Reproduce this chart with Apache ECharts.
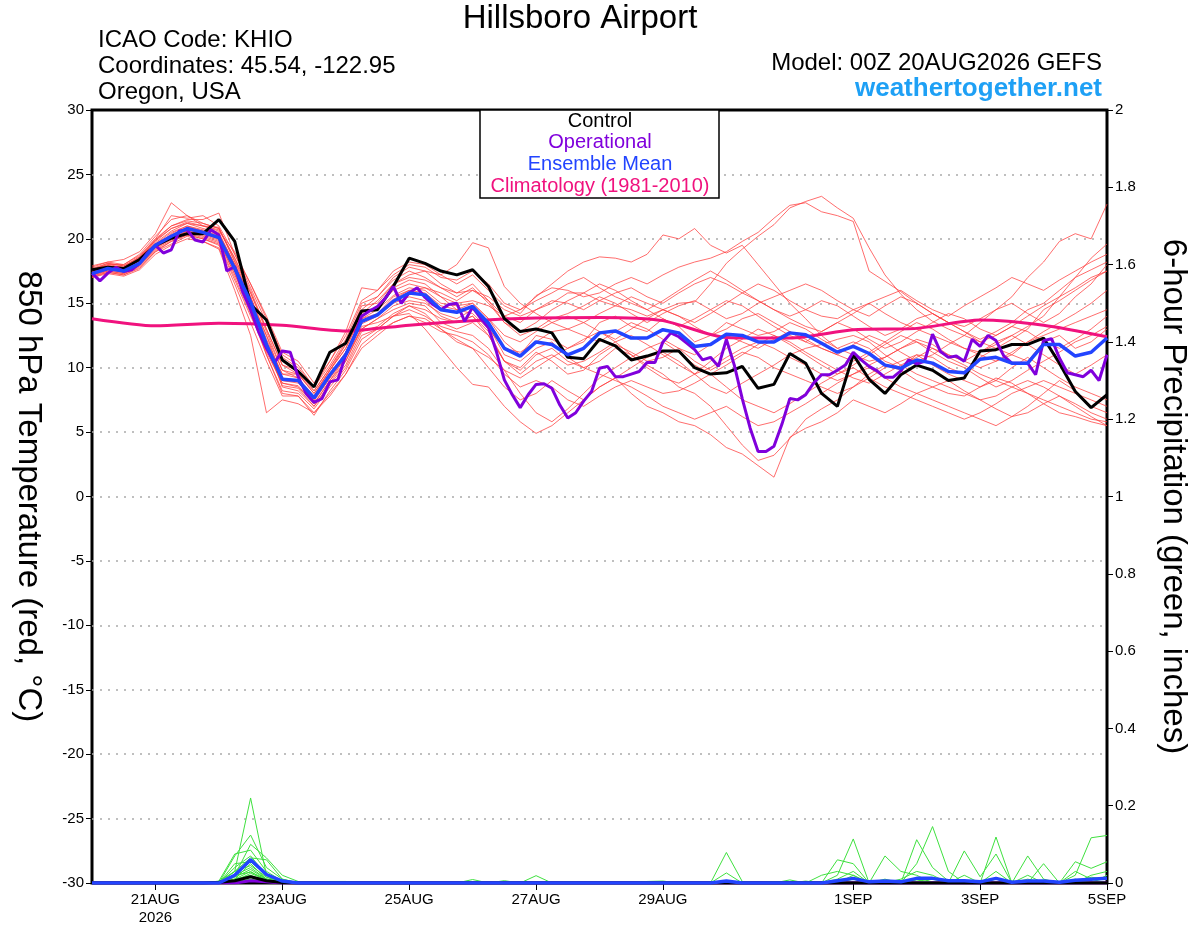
<!DOCTYPE html>
<html><head><meta charset="utf-8">
<script src="https://cdn.jsdelivr.net/npm/echarts@6/dist/echarts.min.js"></script>
<style>html,body{margin:0;padding:0;background:#fff}#c{width:1200px;height:927px}</style>
</head><body><div id="c"></div>
<script>
const FONT = 'Liberation Sans, Arial, Helvetica, sans-serif';

// x axis: hours since 00Z 20AUG2026
const tickHours = [24, 72, 120, 168, 216, 288, 336, 384];
const tickLabels = ['21AUG\n2026', '23AUG', '25AUG', '27AUG', '29AUG', '1SEP', '3SEP', '5SEP'];

// 850 hPa temperature (°C), 6-hourly from 00Z 20AUG
const controlTemp = [17.6,17.8,17.7,18.4,19.5,20.05,20.4,20.4,21.5,19.8,14.9,13.7,10.6,9.7,8.5,11.2,11.9,14.4,14.5,16.3,18.5,18.1,17.5,17.2,17.6,16.3,13.8,12.8,13.0,12.7,10.8,10.7,12.2,11.7,10.6,10.9,11.3,11.3,10.0,9.5,9.6,10.1,8.4,8.7,11.1,10.35,8.0,7.0,11.0,9.1,8.0,9.45,10.2,9.8,9.0,9.2,11.3,11.4,11.8,11.8,12.3,10.35,8.15,6.9,7.9];
const meanTemp = [17.3,17.7,17.5,18.1,19.5,20.2,20.8,20.5,20.1,17.7,15.1,11.8,9.1,9.0,7.65,9.45,11.0,13.6,14.1,15.15,15.8,15.65,14.5,14.3,14.75,13.45,11.5,10.9,12.0,11.8,11.0,11.5,12.7,12.85,12.3,12.3,12.95,12.7,11.65,11.8,12.6,12.5,12.0,12.0,12.7,12.55,11.9,11.2,11.65,11.1,10.2,9.95,10.6,10.35,9.7,9.6,10.65,10.8,10.35,10.35,11.8,11.8,10.9,11.2,12.3];
// operational run, 3-hourly from 00Z 20AUG
const operationalTemp = [17.34,16.74,17.34,17.78,17.47,17.6,18.1,18.9,19.5,18.9,19.15,20.6,20.7,19.9,19.75,20.7,20.3,17.5,17.85,15.9,14.5,12.8,11.5,10.35,11.3,11.2,9.3,8.0,7.3,7.6,8.9,9.05,11.0,12.3,14.0,14.4,14.75,15.4,16.3,15.0,15.8,16.2,15.45,14.9,14.5,14.9,15.0,13.6,14.7,13.85,13.1,11.25,9.05,7.9,6.9,7.9,8.7,8.75,8.4,7.1,6.1,6.5,7.4,8.15,9.95,10.1,9.3,9.3,9.5,9.7,10.4,10.4,12.0,12.7,12.4,11.9,11.4,10.6,10.8,10.1,12.2,10.2,7.6,5.3,3.5,3.5,3.9,5.6,7.6,7.5,7.9,8.8,9.45,9.45,9.8,10.2,11.2,10.6,10.1,9.75,9.25,9.25,9.75,10.6,10.3,10.5,12.6,11.25,10.8,10.9,10.5,12.2,11.65,12.5,12.1,10.9,10.35,10.35,10.35,9.45,12.1,12.25,10.75,9.6,9.45,9.3,9.8,9.0,11.0];
// climatology 1981-2010, daily at 00Z
const climTemp = [13.8,13.25,13.45,13.3,12.85,13.3,13.65,13.85,13.9,13.65,12.35,12.3,12.95,13.05,13.7,13.3,12.4];

// ensemble members, 6-hourly
const memberTemps = [
[17.6,18.0,18.0,18.8,20.2,21.5,21.8,21.2,20.8,18.5,16.0,13.0,10.2,9.5,8.2,10.0,12.0,14.5,15.5,16.8,17.5,17.0,16.2,15.8,16.0,15.2,14.0,13.5,14.5,15.0,15.8,15.8,15.2,14.8,14.5,14.0,14.5,15.0,15.1,16.5,18.1,19.2,20.2,21.1,22.4,22.9,23.3,22.4,21.6,19.3,17.2,15.7,14.5,13.6,13.0,12.5,12.0,11.5,12.2,13.0,14.5,15.2,16.0,16.8,17.5],
[17.9,18.2,18.4,19.0,20.4,22.8,21.8,21.0,20.6,19.0,16.5,14.0,11.2,10.5,8.8,10.5,12.8,16.2,16.0,17.5,18.2,18.0,17.2,16.5,17.2,16.0,14.8,14.2,15.6,16.2,16.0,15.5,15.8,16.5,17.0,16.5,17.2,17.8,18.2,18.5,19.0,19.8,20.5,21.6,22.6,22.8,22.1,21.8,21.35,17.5,16.7,15.9,15.0,14.2,13.5,12.8,12.2,12.8,13.5,14.5,15.0,16.0,17.0,17.6,18.2],
[17.5,17.9,17.8,18.6,19.8,20.8,21.2,21.0,20.9,18.2,15.5,12.5,9.8,9.2,7.8,9.8,11.5,14.2,15.2,16.5,17.2,17.5,17.2,18.0,19.7,19.3,16.3,15.0,14.2,13.5,13.0,13.5,14.2,14.8,15.5,15.0,14.5,14.0,13.5,14.2,15.0,15.8,16.5,16.0,15.2,14.5,14.0,13.8,14.5,15.0,14.2,13.5,13.0,12.5,12.0,11.5,11.2,11.8,12.5,13.2,14.0,15.5,17.0,18.5,19.6],
[17.2,17.6,17.4,18.2,19.4,20.4,21.0,20.7,20.4,18.0,15.0,12.0,9.5,9.5,8.0,9.8,11.8,14.0,14.8,16.0,16.5,16.2,15.5,15.0,15.2,14.8,14.0,14.5,15.5,16.5,17.5,18.2,18.6,18.5,18.2,18.8,20.3,20.0,20.8,19.5,18.9,19.5,18.0,16.5,15.0,13.8,12.5,11.5,11.0,10.5,10.8,11.5,12.2,11.8,11.0,10.5,10.0,10.5,11.0,12.0,12.5,13.0,13.5,14.0,14.5],
[17.0,17.4,17.2,17.8,19.0,19.8,20.3,20.0,19.6,17.0,14.2,11.0,8.2,8.0,6.8,8.5,10.0,12.5,13.0,14.0,14.8,14.2,13.0,12.2,11.5,10.0,8.5,7.5,8.0,9.0,8.2,7.5,8.5,9.2,8.0,7.0,6.5,5.8,5.5,4.8,3.8,3.3,2.4,1.5,4.6,5.3,5.8,6.5,7.5,7.0,6.5,7.2,8.0,8.5,9.0,8.2,7.5,7.8,8.5,9.0,8.5,7.8,7.2,6.5,6.0],
[17.4,17.8,17.6,18.0,19.3,20.0,20.5,20.2,19.8,17.5,14.8,12.0,8.5,8.2,7.0,8.8,10.5,13.0,13.8,14.5,15.0,14.8,13.5,13.0,13.5,12.5,10.5,9.8,11.0,11.5,10.5,10.0,10.5,11.5,11.0,10.2,9.5,8.5,8.0,7.0,5.5,4.0,2.8,3.2,4.5,6.0,6.8,7.5,8.5,9.2,10.0,10.5,11.0,10.2,9.5,9.0,8.5,9.0,10.0,10.8,10.0,9.2,8.5,8.0,7.5],
[17.1,17.5,17.3,17.9,19.2,19.9,20.4,20.1,19.7,17.3,14.5,11.2,8.8,8.5,7.2,9.0,10.5,13.2,13.5,14.0,14.2,13.0,11.5,10.0,8.7,8.5,7.0,5.8,4.9,5.5,6.5,7.5,8.5,9.2,10.0,10.8,11.2,10.5,9.5,8.5,8.0,8.8,9.5,10.2,11.0,11.5,11.8,12.2,12.5,12.0,11.0,10.2,9.5,9.0,8.5,8.0,7.5,6.8,6.2,6.5,7.2,7.8,7.0,6.2,5.5],
[17.6,18.0,17.8,18.4,19.7,20.6,21.2,20.8,20.5,18.0,15.5,12.2,9.5,9.2,7.6,9.5,11.2,13.8,14.5,15.6,16.2,16.0,15.0,14.8,15.0,13.8,12.0,11.0,12.5,12.2,11.5,12.0,13.5,14.0,13.2,12.8,13.8,13.2,12.0,12.5,13.5,13.0,12.5,12.8,13.5,13.0,12.2,11.5,12.0,11.5,10.5,10.0,11.0,10.8,10.0,9.5,10.8,11.5,11.0,10.5,12.0,12.5,11.5,12.0,13.0],
[17.3,17.7,17.6,18.3,19.6,20.5,21.0,20.6,20.2,17.8,15.2,12.0,9.0,8.8,7.5,9.2,11.0,13.5,14.2,15.5,16.0,16.2,15.8,15.2,16.0,15.5,14.5,14.0,14.5,15.2,15.0,14.5,15.2,15.8,16.2,15.5,15.0,15.8,16.5,17.0,16.5,15.8,15.2,14.5,14.0,14.5,15.2,14.8,14.0,13.2,12.5,13.0,13.8,14.2,13.5,12.8,12.0,12.5,13.2,12.8,12.0,11.5,12.2,13.0,14.0],
[17.0,17.3,17.1,17.6,18.8,19.5,20.0,19.8,19.3,16.5,13.5,10.5,7.8,7.8,6.5,8.0,9.5,11.8,12.8,13.5,14.0,13.5,12.8,12.5,12.0,11.0,9.5,8.5,9.0,8.5,7.5,7.0,7.8,8.5,9.0,8.5,8.0,8.2,8.8,9.5,8.5,7.5,7.0,6.5,7.2,8.0,8.8,9.5,10.0,9.2,8.5,8.0,7.5,7.0,6.5,6.0,6.5,7.2,8.0,8.5,9.0,8.5,8.0,7.5,7.0],
[17.5,17.9,17.7,18.5,19.9,21.0,21.4,21.2,20.8,18.3,15.8,12.8,9.8,9.5,8.0,9.8,11.5,14.0,14.8,16.2,16.8,16.5,15.5,14.5,14.2,13.0,11.5,11.2,12.0,12.8,13.0,12.5,12.0,12.8,13.5,13.0,12.2,11.5,11.0,11.8,12.5,12.0,11.5,12.2,12.8,12.2,11.5,11.0,11.8,12.5,12.0,11.2,10.5,11.0,11.8,12.5,13.5,14.5,15.5,17.0,18.2,19.8,20.4,20.0,22.7],
[17.2,17.5,17.3,17.9,19.1,19.8,20.3,20.0,19.5,16.8,14.0,11.5,8.6,8.4,7.0,8.7,10.2,12.8,13.2,14.2,14.8,14.5,13.8,13.5,14.0,12.8,10.5,10.0,11.2,10.5,9.5,9.8,11.0,11.8,11.2,10.5,10.8,11.5,10.5,9.8,10.5,11.2,10.8,10.0,9.5,9.0,8.5,8.0,8.5,9.5,10.2,9.8,9.0,8.5,8.0,7.8,8.5,9.2,8.8,8.0,7.2,6.5,6.2,5.8,5.5],
[17.8,18.2,18.0,18.7,20.0,21.8,21.6,21.8,21.0,18.8,16.2,13.5,10.8,10.0,8.5,10.2,12.2,15.0,15.5,17.0,17.8,17.5,16.5,15.8,16.5,15.2,13.5,12.5,13.0,13.8,14.2,14.8,15.5,15.0,14.2,13.5,14.2,14.8,15.2,14.5,13.8,14.2,15.0,15.5,16.0,16.5,16.0,15.2,14.5,14.0,14.8,15.5,15.0,14.2,13.5,13.2,13.8,14.5,15.0,14.2,13.5,14.2,15.5,16.5,18.0],
[17.4,17.8,17.5,18.1,19.4,20.1,20.6,20.3,19.9,17.2,14.6,11.0,8.0,7.8,6.3,8.2,9.8,12.2,13.0,14.0,14.5,14.0,13.2,12.8,12.5,11.5,9.8,8.0,6.5,5.8,6.8,8.0,9.2,10.0,10.8,11.5,12.0,11.2,10.2,9.5,10.2,11.0,11.8,12.5,12.0,11.2,10.5,9.8,9.2,8.8,9.5,10.2,10.8,11.5,11.0,10.5,11.2,12.0,12.5,11.8,11.0,10.2,9.5,10.2,11.0],
[17.1,17.4,17.2,17.7,19.0,19.6,20.2,19.8,19.2,16.0,12.5,6.5,7.5,7.2,6.5,7.8,9.5,11.5,12.5,13.5,14.0,13.8,13.0,12.0,11.5,10.8,9.8,9.2,10.0,10.8,11.5,12.2,12.8,12.0,11.0,10.0,9.2,8.8,9.5,10.5,11.5,12.2,13.0,12.5,11.8,11.0,10.2,9.5,10.2,11.0,11.8,12.5,12.0,11.2,10.5,10.0,9.2,8.5,9.0,9.8,10.5,11.2,12.0,12.5,13.2],
[17.6,18.1,17.9,18.6,20.0,21.0,21.5,21.5,22.0,18.8,16.5,13.8,11.0,10.2,8.5,10.5,12.5,15.2,16.0,17.2,18.0,17.8,17.0,16.8,17.5,16.5,15.0,14.5,15.2,15.8,16.5,17.0,16.2,15.5,15.0,14.5,15.2,16.0,16.8,17.5,16.8,16.0,15.2,14.5,13.8,13.2,12.8,13.5,14.2,15.0,15.5,16.0,15.2,14.5,14.0,14.8,15.5,16.2,17.0,16.5,16.0,16.8,17.5,18.2,18.8],
[17.3,17.6,17.4,18.0,19.3,20.0,20.6,20.4,20.0,17.5,14.8,11.5,8.8,8.6,7.2,9.0,10.8,13.0,13.8,14.8,15.2,15.0,14.2,13.8,14.5,13.2,11.0,10.5,11.5,12.0,10.8,10.0,9.5,9.0,8.5,7.8,7.0,6.5,6.0,6.5,7.0,6.2,5.5,5.8,6.5,7.2,8.0,8.8,9.5,10.2,10.8,11.5,12.0,11.5,10.8,10.2,9.5,9.0,8.5,8.0,7.5,7.0,6.5,6.0,5.8],
[17.5,17.9,17.7,18.3,19.6,20.3,20.9,20.6,20.3,18.0,15.3,12.5,9.2,9.0,7.8,9.5,11.2,13.8,14.2,15.3,16.0,15.8,14.8,14.5,15.0,13.8,12.5,12.0,12.8,13.5,14.0,13.5,12.8,12.2,13.0,13.8,14.5,14.0,13.2,12.5,13.0,13.8,14.2,13.5,12.8,12.0,11.5,11.0,10.5,11.2,12.0,12.8,13.5,13.0,12.2,11.5,11.0,10.5,11.2,12.0,12.8,13.5,14.2,15.0,16.0],
[17.2,17.6,17.5,18.2,19.5,20.2,20.7,20.4,20.0,17.6,14.9,11.8,9.0,8.9,7.4,9.2,10.8,13.4,14.0,15.0,15.5,15.2,14.0,13.5,14.0,12.5,10.5,9.5,10.5,11.0,10.2,10.5,11.2,12.0,12.5,11.8,11.0,10.2,9.5,10.0,10.8,11.5,12.0,11.5,10.8,10.2,9.5,9.0,9.5,10.0,9.2,8.5,8.0,7.5,7.0,6.5,6.0,5.5,6.2,7.0,8.0,9.0,8.2,7.0,6.5],
[17.7,18.1,17.9,18.5,19.9,20.8,21.3,21.0,20.7,18.5,15.8,13.0,10.2,9.8,8.2,10.0,11.8,14.8,15.0,16.5,17.0,16.8,16.2,15.5,16.2,15.0,13.5,12.8,13.5,14.5,15.2,15.8,16.5,16.0,15.2,14.5,13.8,13.2,13.8,14.5,15.2,14.8,14.0,13.2,12.5,12.0,12.8,13.5,13.0,12.2,11.5,12.0,12.8,13.5,14.2,13.8,13.0,12.5,13.2,14.0,14.8,15.5,16.2,17.0,17.5]
];

// 6-hour precipitation (inches) as [6-hour step index, value]; all other steps read as 0
const memberPrecip = [
[[8,0.004],[9,0.03],[10,0.22],[11,0.02],[12,0.005],[40,0.079],[41,0.004],[47,0.02],[48,0.114],[52,0.05],[53,0.146],[54,0.03],[56,0.005],[62,0.02],[63,0.117],[64,0.123]],
[[9,0.07],[10,0.124],[11,0.04],[12,0.01],[40,0.026],[47,0.06],[48,0.05],[50,0.01],[52,0.112],[53,0.04],[54,0.005],[57,0.119],[59,0.02],[62,0.055],[63,0.038],[64,0.055]],
[[9,0.02],[10,0.10],[11,0.065],[12,0.02],[13,0.004],[44,0.008],[46,0.02],[47,0.03],[48,0.02],[50,0.07],[51,0.03],[52,0.02],[55,0.083],[56,0.016],[57,0.075],[59,0.07],[60,0.01],[63,0.02],[64,0.03]],
[[8,0.005],[9,0.075],[10,0.085],[11,0.03],[12,0.005],[47,0.01],[48,0.03],[51,0.01],[52,0.03],[53,0.02],[57,0.03],[60,0.05],[62,0.03],[63,0.01]],
[[9,0.04],[10,0.07],[11,0.02],[12,0.005],[48,0.01],[52,0.01],[55,0.02],[58,0.005],[62,0.01],[64,0.02]],
[[9,0.03],[10,0.065],[11,0.06],[12,0.01],[24,0.009],[45,0.005],[48,0.02],[53,0.01],[59,0.01]],
[[9,0.02],[10,0.06],[11,0.015],[12,0.003],[26,0.006],[43,0.004]],
[[9,0.05],[10,0.055],[11,0.02],[12,0.005],[28,0.019],[52,0.008]],
[[9,0.01],[10,0.05],[11,0.01],[12,0.002],[15,0.004],[16,0.004],[35,0.004],[36,0.005]],
[[9,0.03],[10,0.045],[11,0.015],[12,0.003],[57,0.01]],
[[9,0.02],[10,0.04],[11,0.01],[12,0.002],[63,0.015],[64,0.01]],
[[9,0.015],[10,0.035],[11,0.01],[12,0.002],[30,0.003]],
[[9,0.01],[10,0.03],[11,0.005],[49,0.005]],
[[9,0.02],[10,0.028],[11,0.01],[12,0.002]],
[[9,0.005],[10,0.025],[11,0.008]],
[[9,0.01],[10,0.02],[11,0.005],[55,0.005]],
[[9,0.008],[10,0.018],[11,0.003]],
[[9,0.005],[10,0.015],[11,0.002]],
[[9,0.003],[10,0.01],[11,0.002]],
[[9,0.002],[10,0.008],[11,0.001]]
];
const meanPrecip = [[9,0.02],[10,0.06],[11,0.022],[12,0.005],[40,0.005],[47,0.006],[48,0.012],[49,0.003],[50,0.005],[51,0.003],[52,0.012],[53,0.012],[54,0.006],[55,0.006],[56,0.003],[57,0.012],[58,0.002],[59,0.005],[60,0.005],[61,0.002],[62,0.007],[63,0.01],[64,0.012]];
const controlPrecip = [[8,0.002],[9,0.006],[10,0.016],[11,0.006],[12,0.001]];
const operationalPrecip = [[10,0.006],[11,0.003]];

const NSTEP = 65;
function at6(arr){ return arr.map((v,i)=>[i*6, v]); }
function at3(arr){ return arr.map((v,i)=>[i*3, v]); }
function at24(arr){ return arr.map((v,i)=>[i*24, v]); }
function expand(sparse){ const a = new Array(NSTEP).fill(0); sparse.forEach(p=>{ a[p[0]] = p[1]; }); return at6(a); }

const series = [];
memberTemps.forEach((m,k)=>series.push({type:'line', data:at6(m), symbol:'none', silent:true, z:2,
  lineStyle:{color:'rgba(255,60,60,0.75)', width:1}}));
memberPrecip.forEach((m,k)=>series.push({type:'line', yAxisIndex:1, data:expand(m), symbol:'none', silent:true, z:2,
  lineStyle:{color:'#3fe03f', width:1}}));
series.push({type:'line', data:at24(climTemp), symbol:'none', smooth:0.25, silent:true, z:3, lineStyle:{color:'#f0127e', width:3}});
series.push({type:'line', yAxisIndex:1, data:expand(operationalPrecip), symbol:'none', silent:true, z:4, lineStyle:{color:'#8000dc', width:3}});
series.push({type:'line', yAxisIndex:1, data:expand(controlPrecip), symbol:'none', silent:true, z:4, lineStyle:{color:'#000', width:3}});
series.push({type:'line', yAxisIndex:1, data:expand(meanPrecip), symbol:'none', silent:true, z:4, lineStyle:{color:'#2244ff', width:3.5}});
series.push({type:'line', data:at6(controlTemp), symbol:'none', silent:true, z:5, lineStyle:{color:'#000', width:3}});
series.push({type:'line', data:at3(operationalTemp), symbol:'none', silent:true, z:5, lineStyle:{color:'#8000dc', width:3}});
series.push({type:'line', data:at6(meanTemp), symbol:'none', silent:true, z:5, lineStyle:{color:'#2244ff', width:3.5}});

const chart = echarts.init(document.getElementById('c'), null, {renderer:'canvas'});
const txt = (x,y,text,size,color,align,weight)=>({type:'text', x:x, y:y, z:200, silent:true,
  style:{text:text, fill:color, font:(weight||'normal')+' '+size+'px '+FONT, textAlign:align, textVerticalAlign:'middle'}});

chart.setOption({
  animation:false,
  backgroundColor:'#fff',
  textStyle:{fontFamily:FONT},
  grid:{left:92, right:93, top:110, bottom:44, show:true, borderColor:'#000', borderWidth:3, backgroundColor:'rgba(0,0,0,0)'},
  xAxis:{type:'value', min:0, max:384,
    axisLine:{show:false, onZero:false}, splitLine:{show:false},
    axisTick:{show:true, customValues:tickHours, length:7, lineStyle:{color:'#000', width:1}},
    axisLabel:{customValues:tickHours, formatter:v=>{const k=tickHours.indexOf(v); return k<0?'':tickLabels[k];},
      fontSize:15, color:'#000', margin:8, lineHeight:18, fontFamily:FONT}},
  yAxis:[
    {type:'value', min:-30, max:30, interval:5, position:'left',
      axisLine:{show:false}, axisTick:{show:true, length:6, lineStyle:{color:'#000'}},
      axisLabel:{fontSize:15, color:'#000', margin:8, fontFamily:FONT},
      splitLine:{show:true, showMinLine:false, showMaxLine:false, lineStyle:{color:'#aaa', type:[2,6], width:1.5}},
      name:'850 hPa Temperature (red, °C)', nameLocation:'middle', nameGap:47, nameRotate:-90,
      nameTextStyle:{fontSize:33, color:'#000', fontFamily:FONT}},
    {type:'value', min:0, max:2, interval:0.2, position:'right',
      axisLine:{show:false}, axisTick:{show:true, length:6, lineStyle:{color:'#000'}},
      axisLabel:{fontSize:15, color:'#000', margin:8, fontFamily:FONT},
      splitLine:{show:false},
      name:'6-hour Precipitation (green, inches)', nameLocation:'middle', nameGap:50, nameRotate:-90,
      nameTextStyle:{fontSize:33, color:'#000', fontFamily:FONT}}
  ],
  graphic:{elements:[
    txt(580,19,'Hillsboro Airport',33,'#000','center'),
    txt(98,40,'ICAO Code: KHIO',24,'#000','left'),
    txt(98,66,'Coordinates: 45.54, -122.95',24,'#000','left'),
    txt(98,92,'Oregon, USA',24,'#000','left'),
    txt(1102,63,'Model: 00Z 20AUG2026 GEFS',24,'#000','right'),
    txt(1102,89,'weathertogether.net',26,'#1ea0f5','right','bold'),
    {type:'rect', z:150, silent:true, shape:{x:480, y:110, width:239, height:88},
      style:{fill:'#fff', stroke:'#000', lineWidth:1.5}},
    txt(600,121,'Control',20,'#000','center'),
    txt(600,142,'Operational',20,'#8000dc','center'),
    txt(600,164,'Ensemble Mean',20,'#2244ff','center'),
    txt(600,186,'Climatology (1981-2010)',20,'#f0127e','center')
  ]},
  series:series
});
</script></body></html>
